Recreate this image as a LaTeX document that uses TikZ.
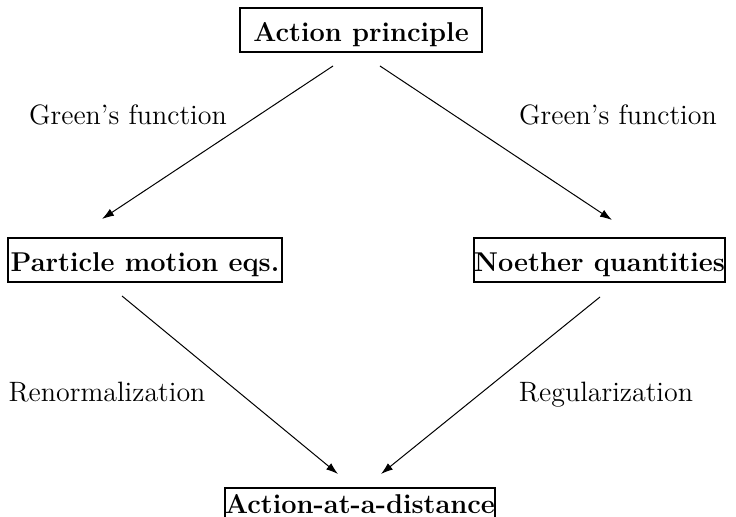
\documentclass[tikz,border=0pt]{standalone}
\usetikzlibrary{arrows.meta}
\begin{document}
\begin{tikzpicture}[x=0.5pt,y=-0.5pt,
  box/.style={draw,line width=1pt,inner xsep=0pt,inner ysep=0pt,
    font=\fontsize{13.6}{16}\selectfont\bfseries,anchor=base,
    text height=17pt,text depth=5pt,align=center},
  lbl/.style={font=\fontsize{14}{17}\selectfont,anchor=base,inner sep=0pt},
  conn/.style={line width=0.5pt,-{Latex[length=6pt,width=4pt]}}]
\useasboundingbox (0,0) rectangle (736,517);
\clip (0,0) rectangle (736,517);
\node[box,minimum width=121pt] (ap) at (361,42) {Action principle};
\node[box,minimum width=137pt] (pm) at (145,272) {Particle motion eqs.};
\node[box,minimum width=125.5pt] (nq) at (599.5,272) {Noether quantities};
\node[box,minimum width=130pt,text height=13pt] (ad) at (360,514) {Action-at-a-distance};
\node[lbl] (g1) at (128,125) {Green's function};
\node[lbl] (g2) at (618,125) {Green's function};
\node[lbl] (rn) at (107,402) {Renormalization};
\node[lbl] (rg) at (606,402) {Regularization};
\coordinate (a1) at (333,66);
\coordinate (a2) at (102,219);
\coordinate (b1) at (380,66);
\coordinate (b2) at (612,220);
\coordinate (c1) at (122,296);
\coordinate (c2) at (338,474);
\coordinate (d1) at (600,297);
\coordinate (d2) at (381,474);
\draw[conn] (a1) -- (a2);
\draw[conn] (b1) -- (b2);
\draw[conn] (c1) -- (c2);
\draw[conn] (d1) -- (d2);
\end{tikzpicture}
\end{document}
